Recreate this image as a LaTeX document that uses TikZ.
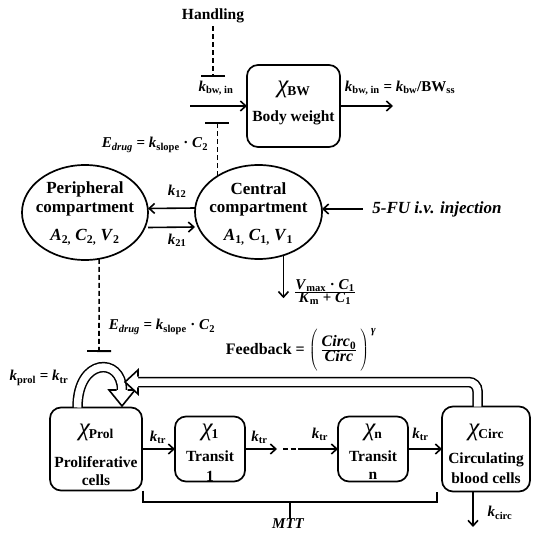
\documentclass[tikz,border=0pt]{standalone}
\usepackage{fontspec}
\setmainfont{Liberation Serif}
\usetikzlibrary{arrows.meta,shapes.geometric,calc}

% rate constant k with an upright subscript
\newcommand\ksub[1]{\textit{k}\textsubscript{#1}}
% compartment amount chi with a lowered label
\newcommand\chisub[1]{{\fontsize{25}{25}\selectfont\mdseries\itshape χ}\kern-1pt\raisebox{-3pt}{\fontsize{13.5}{15}\selectfont #1}}
% linear drug effect
\newcommand\edrug{\textit{E}\textsubscript{\textit{drug}} = \ksub{slope} · \textit{C}\textsubscript{2}}

\begin{document}
\begin{tikzpicture}[x=1pt,y=-1pt,line width=1.6pt,
  every node/.style={inner sep=0pt,outer sep=0pt,font=\fontsize{15.5}{17}\selectfont\bfseries},
  lbl/.style={font=\fontsize{15}{17}\selectfont\bfseries},
  big/.style={font=\fontsize{17}{19}\selectfont\bfseries},
  box/.style={draw,rounded corners=11pt,line width=1.7pt},
  comp/.style={draw,ellipse,line width=1.7pt},
  arr/.style={-{Straight Barb[length=5.5pt,width=10pt]}},
  inh/.style={dash pattern=on 5pt off 3pt,-{Bar[width=24pt,line width=1.8pt]}},
  fat/.style={double,double distance=7.5pt,line width=1.5pt},
]
\fill[white] (0,0) rectangle (532,537);
\useasboundingbox (0,0) rectangle (532,537);

% ---------- body weight ----------
\node (handling) at (213,16) {Handling};
\coordinate (hbar) at (213,77);
\draw[inh] ([yshift=-3pt]handling.south) -- (hbar);

\node[box,minimum width=93pt,minimum height=82pt] (bw) at (293.5,106) {};
\node (bwchi) at (293.5,89) {\chisub{BW}};
\node (bwname) at (293.5,118) {Body weight};
\coordinate (bwin) at (190,106);
\draw[arr] (bwin) -- (bw.west);
\node[lbl] (kbwin) at (216,88) {\ksub{bw, in}};
\coordinate (bwout) at (393,106);
\draw[arr] (bw.east) -- (bwout);
\node[lbl] (kbwout) at (400,88) {\ksub{bw, in} = \ksub{bw}/BW\textsubscript{ss}};

% ---------- pharmacokinetics ----------
\node[comp,minimum width=126pt,minimum height=95pt] (peri) at (85,212.5) {};
\node[big] (peri1) at (85,189) {Peripheral};
\node[big] (peri2) at (85,210) {compartment};
\node[big] (peri3) at (85,237) {\textit{A}\textsubscript{2,} \textit{C}\textsubscript{2,} \textit{V}\textsubscript{2}};

\node[comp,minimum width=127pt,minimum height=94pt] (cent) at (258.5,212) {};
\node[big] (cent1) at (258.5,189) {Central};
\node[big] (cent2) at (258.5,210) {compartment};
\node[big] (cent3) at (258.5,237) {\textit{A}\textsubscript{1,} \textit{C}\textsubscript{1,} \textit{V}\textsubscript{1}};

\draw[arr] ([yshift=4pt]cent.west) -- ([yshift=4pt]peri.east);
\draw[arr] ([yshift=-15pt]peri.east) -- ([yshift=-15pt]cent.west);
\node[lbl] (k12) at (177,191) {\ksub{12}};
\node[lbl] (k21) at (177,240) {\ksub{21}};

\coordinate (ebar1) at ($(cent.139)+(0,-54)$);
\draw[inh] (cent.139) -- (ebar1);
\node[lbl] (edrugtop) at (155,145) {\edrug};

\node[big,font=\fontsize{17}{19}\selectfont\bfseries\itshape] (fu) at (437,209) {5-FU i.v. injection};
\draw[arr] ([xshift=-9.5pt]fu.west) -- (fu.west -| cent.east);

\coordinate (elimend) at ($(cent.-60)+(0,43)$);
\draw[arr] (cent.-60) -- (elimend);
\node[lbl] (elim) at (325,292) {$\frac{\hbox{\textit{V}\textsubscript{max} · \textit{C}\textsubscript{1}}}{\hbox{\textit{K}\textsubscript{m} + \textit{C}\textsubscript{1}}}$};

\coordinate (ebar2) at (99,352);
\draw[inh] (peri.-73) -- (ebar2);
\node[lbl] (edrugbot) at (162,327) {\edrug};

\node[font=\fontsize{16}{18}\selectfont\bfseries] (fb) at (301,350) {Feedback = $\left(\vrule height 22pt depth 17pt width 0pt\,\frac{\hbox{\textit{Circ}\textsubscript{0}}}{\hbox{\textit{Circ}}}\,\right)^{\kern2pt\hbox{\fontsize{11}{11}\selectfont\textit{γ}}}$};

% ---------- myelosuppression chain ----------
\node[box,minimum width=92pt,minimum height=83pt] (prol) at (96,449) {};
\node (prolchi) at (96,432) {\chisub{Prol}};
\node (prol1) at (96,462) {Proliferative};
\node (prol2) at (96,480) {cells};

\node[box,minimum width=70pt,minimum height=65pt] (t1) at (210,449) {};
\node (t1chi) at (210,432) {\chisub{1}};
\node (t1a) at (210,456) {Transit};
\node (t1b) at (210,476) {1};

\node[box,minimum width=70pt,minimum height=65pt] (tn) at (373,449) {};
\node (tnchi) at (373,432) {\chisub{n}};
\node (tna) at (373,456) {Transit};
\node (tnb) at (373,476) {n};

\node[box,minimum width=88pt,minimum height=85pt] (circ) at (486,449) {};
\node (circchi) at (486,432) {\chisub{Circ}};
\node (circ1) at (486,460) {Circulating};
\node (circ2) at (486,478) {blood cells};

\draw[arr] (prol.east) -- (t1.west);
\coordinate (g1) at (277,449);
\coordinate (g2) at (283,449);
\coordinate (g3) at (303,449);
\draw[arr] (t1.east) -- (g1);
\draw[dash pattern=on 5pt off 2.5pt] (g2) -- (g3);
\draw[arr] (g3) -- (tn.west);
\draw[arr] (tn.east) -- (circ.west);
\node[lbl] (ktr1) at (158,437) {\ksub{tr}};
\node[lbl] (ktr2) at (259.5,437) {\ksub{tr}};
\node[lbl] (ktr3) at (320,434) {\ksub{tr}};
\node[lbl] (ktr4) at (420.5,434) {\ksub{tr}};

\coordinate (circout) at (473,527);
\draw[arr] ([xshift=-13pt]circ.south) -- (circout);
\node[lbl] (kcirc) at (500,513) {\ksub{circ}};

% mean transit time bracket
\coordinate (mttL) at ([xshift=1pt]prol.south east);
\coordinate (mttR) at ([xshift=-5pt]circ.south west);
\coordinate (mttbase) at (290,502);
\node[lbl,font=\fontsize{15}{17}\selectfont\bfseries\itshape] (mtt) at (288,524) {MTT};
\draw (mttL) -- (mttL |- mttbase) -- (mttR |- mttbase) -- (mttR);
\draw (mttbase) -- (mttbase |- mtt.north);

% self-renewal loop
\node[lbl] (kprol) at (39,378) {\ksub{prol} = \ksub{tr}};
\coordinate (loopstart) at ([xshift=-18.5pt]prol.north);
\coordinate (loopend) at (122,390);
\draw[fat] (loopstart) .. controls (77.5,357) and (122,357) .. (loopend);
\fill[white] (109,390) -- (122,406) -- (135,390) -- cycle;
\draw[line join=miter] (116.5,390) -- (109,390) -- (122,406) -- (135,390) -- (127.5,390);

% feedback from circulating cells
\coordinate (fbcorner) at (477.5,382);
\coordinate (fbend) at (138,382);
\draw[fat,rounded corners=9pt] ([xshift=-8.5pt]circ.north) -- (fbcorner) -- (fbend);
\fill[white] (138,370) -- (125,382) -- (138,394) -- cycle;
\draw[line join=miter] (138,376.7) -- (138,370) -- (125,382) -- (138,394) -- (138,387.3);
\end{tikzpicture}
\end{document}
